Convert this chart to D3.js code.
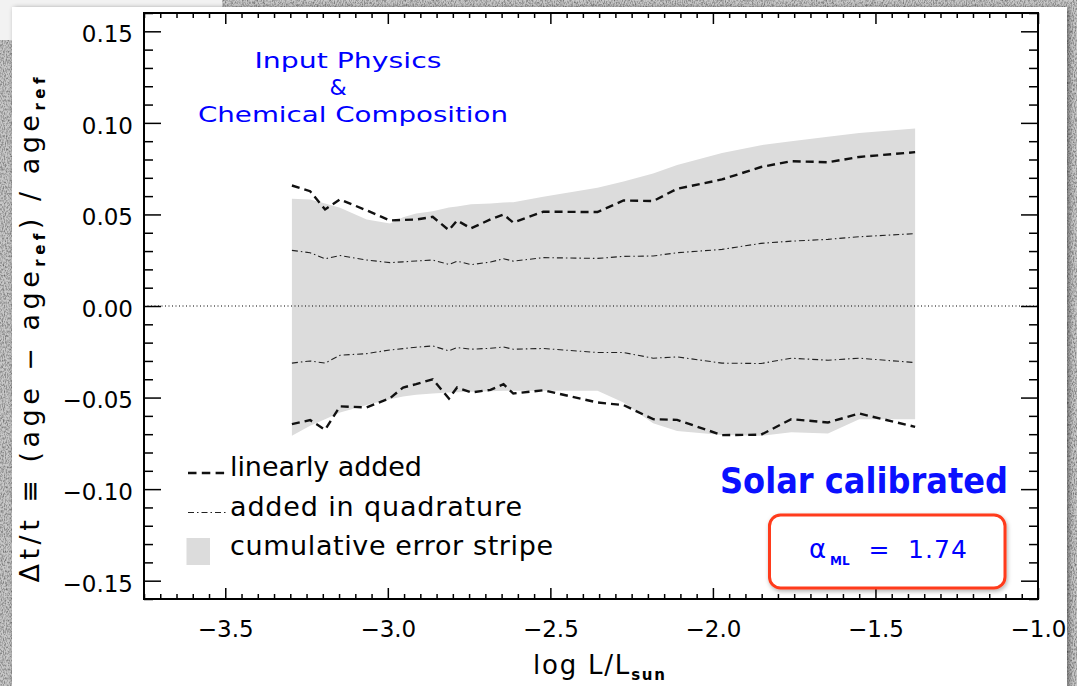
<!DOCTYPE html>
<html>
<head>
<meta charset="utf-8">
<script src="https://cdn.jsdelivr.net/npm/d3@7"></script>
<style>
html,body{margin:0;padding:0;overflow:hidden;background:#c4c4c4;}
svg{display:block;}
</style>
</head>
<body>
<svg id="chart" width="1077" height="686"></svg>
<script>
// ---------------- data ----------------
const logL = [-3.295, -3.239, -3.193, -3.147, -3.065, -2.993, -2.953, -2.913, -2.862, -2.812,
              -2.787, -2.744, -2.684, -2.644, -2.614, -2.522, -2.355, -2.275, -2.184, -2.110,
              -1.972, -1.852, -1.759, -1.646, -1.550, -1.378];
const linearUpper = [0.0658, 0.0627, 0.0527, 0.0582, 0.0522, 0.0467, 0.0470, 0.0472, 0.0487, 0.0414,
                     0.0467, 0.0424, 0.0473, 0.0500, 0.0455, 0.0515, 0.0513, 0.0576, 0.0573, 0.0640,
                     0.0691, 0.0759, 0.0791, 0.0785, 0.0814, 0.0840];
const linearLower = [-0.0645, -0.0623, -0.0676, -0.0548, -0.0554, -0.0503, -0.0445, -0.0427, -0.0400, -0.0505,
                     -0.0445, -0.0472, -0.0458, -0.0427, -0.0478, -0.0460, -0.0527, -0.0541, -0.0618, -0.0622,
                     -0.0705, -0.0703, -0.0618, -0.0636, -0.0587, -0.0660];
const quadUpper = [0.0304, 0.0291, 0.0258, 0.0276, 0.0251, 0.0237, 0.0241, 0.0246, 0.0251, 0.0227,
                   0.0245, 0.0226, 0.0240, 0.0258, 0.0245, 0.0264, 0.0260, 0.0271, 0.0273, 0.0291,
                   0.0309, 0.0342, 0.0354, 0.0364, 0.0378, 0.0395];
const quadLower = [-0.0312, -0.0300, -0.0312, -0.0269, -0.0260, -0.0240, -0.0233, -0.0225, -0.0218, -0.0245,
                   -0.0227, -0.0236, -0.0231, -0.0224, -0.0236, -0.0232, -0.0254, -0.0254, -0.0285, -0.0278,
                   -0.0312, -0.0314, -0.0285, -0.0296, -0.0285, -0.0309];
const stripeUpper = [0.0586, 0.0582, 0.0560, 0.0537, 0.0473, 0.0451, 0.0484, 0.0505, 0.0518, 0.0538,
                     0.0544, 0.0555, 0.0560, 0.0565, 0.0567, 0.0597, 0.0646, 0.0680, 0.0724, 0.0770,
                     0.0836, 0.0878, 0.0900, 0.0924, 0.0945, 0.0969];
const stripeLower = [-0.0709, -0.0654, -0.0618, -0.0581, -0.0541, -0.0509, -0.0494, -0.0484, -0.0478, -0.0473,
                     -0.0471, -0.0468, -0.0465, -0.0463, -0.0463, -0.0463, -0.0463, -0.0527, -0.0640, -0.0682,
                     -0.0705, -0.0709, -0.0690, -0.0696, -0.0618, -0.0618];
const xDomain = [-3.75, -1.0];
const yDomain = [-0.16, 0.16];
const xTicks = [-3.5, -3.0, -2.5, -2.0, -1.5, -1.0];
const yTicks = [-0.15, -0.10, -0.05, 0.00, 0.05, 0.10, 0.15];
const legendLabels = ["linearly added", "added in quadrature", "cumulative error stripe"];

// ---------------- drawing ----------------
const W = 1077, H = 686;
const FONT = "'DejaVu Sans', Verdana, sans-serif";
const svg = d3.select('#chart');
const defs = svg.append('defs');

const gran = defs.append('filter').attr('id', 'granite')
  .attr('color-interpolation-filters', 'sRGB')
  .attr('filterUnits', 'userSpaceOnUse')
  .attr('x', 0).attr('y', 0).attr('width', W).attr('height', H);
gran.append('feTurbulence').attr('type', 'fractalNoise')
  .attr('baseFrequency', '0.9 0.45').attr('numOctaves', 3).attr('seed', 7).attr('result', 'n');
gran.append('feColorMatrix').attr('in', 'n').attr('type', 'matrix')
  .attr('values', '0 0 0 0 0  0 0 0 0 0  0 0 0 0 0  0 0 0 0.9 -0.35');

const shadow = defs.append('filter').attr('id', 'shadow')
  .attr('x', '-5%').attr('y', '-5%').attr('width', '110%').attr('height', '110%');
shadow.append('feDropShadow').attr('dx', 2).attr('dy', 1).attr('stdDeviation', 2.5)
  .attr('flood-color', '#000').attr('flood-opacity', 0.45);

const boxShadow = defs.append('filter').attr('id', 'boxShadow')
  .attr('x', '-10%').attr('y', '-20%').attr('width', '120%').attr('height', '140%');
boxShadow.append('feDropShadow').attr('dx', 1).attr('dy', 2).attr('stdDeviation', 2)
  .attr('flood-color', '#000').attr('flood-opacity', 0.3);

// background texture & paper
svg.append('rect').attr('width', W).attr('height', H).attr('fill', '#c8c8c8');
svg.append('rect').attr('width', W).attr('height', H).attr('fill', '#000').attr('filter', 'url(#granite)');
svg.append('rect').attr('x', 0).attr('y', 0).attr('width', 222).attr('height', 40).attr('fill', '#f2f2f2');
svg.append('rect').attr('x', 12).attr('y', 7).attr('width', 1055).attr('height', 700)
  .attr('fill', '#ffffff').attr('filter', 'url(#shadow)');

const x = d3.scaleLinear().domain(xDomain).range([144, 1038]);
const y = d3.scaleLinear().domain(yDomain).range([599, 13]);

// error stripe
const area = d3.area()
  .x((d, i) => x(logL[i]))
  .y0((d, i) => y(stripeLower[i]))
  .y1((d, i) => y(stripeUpper[i]));
svg.append('path').datum(logL).attr('d', area).attr('fill', '#dcdcdc');

// zero line
svg.append('line')
  .attr('x1', x(xDomain[0])).attr('x2', x(xDomain[1]))
  .attr('y1', y(0)).attr('y2', y(0))
  .attr('stroke', '#000').attr('stroke-width', 1).attr('stroke-dasharray', '1,2.5');

const line = d3.line().x((d, i) => x(logL[i])).y(d => y(d));
[linearUpper, linearLower].forEach(s => {
  svg.append('path').datum(s).attr('d', line).attr('fill', 'none')
    .attr('stroke', '#111').attr('stroke-width', 2.4).attr('stroke-dasharray', '8,5');
});
[quadUpper, quadLower].forEach(s => {
  svg.append('path').datum(s).attr('d', line).attr('fill', 'none')
    .attr('stroke', '#222').attr('stroke-width', 1.1).attr('stroke-dasharray', '6,3,1.5,3');
});

// axes
const xMinor = d3.range(0, 56).map(i => +(xDomain[0] + i * 0.05).toFixed(2))
  .filter(v => !xTicks.some(t => Math.abs(t - v) < 1e-6));
const yMinor = d3.range(0, 33).map(i => +(yDomain[0] + i * 0.01).toFixed(2))
  .filter(v => !yTicks.some(t => Math.abs(t - v) < 1e-6));
const fmtX = d3.format('.1f');
const fmtY = d3.format('.2f');

function styleAxis(g, labels) {
  g.select('.domain').remove();
  g.selectAll('.tick line').attr('stroke', '#000').attr('stroke-width', 1.5);
  g.selectAll('.tick text').attr('fill', '#000').style('font-family', FONT).style('font-size', '23px');
  if (!labels) g.selectAll('.tick text').remove();
}
const axG = svg.append('g');
const yB = y.range()[0], yT = y.range()[1], xL = x.range()[0], xR = x.range()[1];

axG.append('g').attr('transform', `translate(0,${yB})`)
  .call(d3.axisBottom(x).tickValues(xTicks).tickSize(-11).tickPadding(22).tickFormat(fmtX))
  .call(g => styleAxis(g, true));
axG.append('g').attr('transform', `translate(0,${yB})`)
  .call(d3.axisBottom(x).tickValues(xMinor).tickSize(-5).tickFormat(''))
  .call(g => styleAxis(g, false));
axG.append('g').attr('transform', `translate(0,${yT})`)
  .call(d3.axisTop(x).tickValues(xTicks).tickSize(-11).tickFormat(''))
  .call(g => styleAxis(g, false));
axG.append('g').attr('transform', `translate(0,${yT})`)
  .call(d3.axisTop(x).tickValues(xMinor).tickSize(-5).tickFormat(''))
  .call(g => styleAxis(g, false));

axG.append('g').attr('transform', `translate(${xL},0)`)
  .call(d3.axisLeft(y).tickValues(yTicks).tickSize(-17).tickPadding(11).tickFormat(fmtY))
  .call(g => styleAxis(g, true))
  .call(g => g.selectAll('.tick text').attr('dy', '0.45em'));
axG.append('g').attr('transform', `translate(${xL},0)`)
  .call(d3.axisLeft(y).tickValues(yMinor).tickSize(-9).tickFormat(''))
  .call(g => styleAxis(g, false));
axG.append('g').attr('transform', `translate(${xR},0)`)
  .call(d3.axisRight(y).tickValues(yTicks).tickSize(-17).tickFormat(''))
  .call(g => styleAxis(g, false));
axG.append('g').attr('transform', `translate(${xR},0)`)
  .call(d3.axisRight(y).tickValues(yMinor).tickSize(-9).tickFormat(''))
  .call(g => styleAxis(g, false));

axG.append('rect').attr('x', xL).attr('y', yT).attr('width', xR - xL).attr('height', yB - yT)
  .attr('fill', 'none').attr('stroke', '#000').attr('stroke-width', 2);

// axis titles
const yt = svg.append('text')
  .attr('transform', 'translate(38.5,330) rotate(-90)')
  .attr('text-anchor', 'middle')
  .style('font-family', FONT).style('font-size', '27px').attr('fill', '#000')
  .attr('textLength', 505).attr('lengthAdjust', 'spacing');
yt.append('tspan').text('Δt/t ≡ (age − age');
yt.append('tspan').attr('dy', 6).style('font-size', '15px').style('font-weight', 'bold').text('ref');
yt.append('tspan').attr('dy', -6).text(') / age');
yt.append('tspan').attr('dy', 6).style('font-size', '15px').style('font-weight', 'bold').text('ref');

const xt = svg.append('text')
  .attr('x', 599).attr('y', 674).attr('text-anchor', 'middle')
  .style('font-family', FONT).style('font-size', '26px').attr('fill', '#000')
  .attr('textLength', 132).attr('lengthAdjust', 'spacing');
xt.append('tspan').text('log L/L');
xt.append('tspan').attr('dy', 6).style('font-size', '15px').style('font-weight', 'bold').text('sun');

// annotation (blue)
const BLUE = '#0000ff';
svg.append('text').attr('x', 348).attr('y', 67.5).attr('text-anchor', 'middle')
  .style('font-family', FONT).style('font-size', '22px').attr('fill', BLUE)
  .attr('textLength', 187).attr('lengthAdjust', 'spacingAndGlyphs').text('Input Physics');
svg.append('text').attr('x', 338).attr('y', 95).attr('text-anchor', 'middle')
  .style('font-family', FONT).style('font-size', '22px').attr('fill', BLUE).text('&');
svg.append('text').attr('x', 353).attr('y', 122).attr('text-anchor', 'middle')
  .style('font-family', FONT).style('font-size', '22px').attr('fill', BLUE)
  .attr('textLength', 310).attr('lengthAdjust', 'spacingAndGlyphs').text('Chemical Composition');

svg.append('text').attr('x', 720).attr('y', 493)
  .style('font-family', FONT).style('font-size', '35px').style('font-weight', 'bold').attr('fill', '#0a10ff')
  .attr('textLength', 288).attr('lengthAdjust', 'spacingAndGlyphs').text('Solar calibrated');

// alpha box
svg.append('rect').attr('x', 769.5).attr('y', 515).attr('width', 235.5).attr('height', 73)
  .attr('rx', 11).attr('fill', '#fff').attr('stroke', '#ff3a1a').attr('stroke-width', 3)
  .attr('filter', 'url(#boxShadow)');
svg.append('text').attr('x', 809).attr('y', 558)
  .style('font-family', FONT).style('font-size', '26px').attr('fill', BLUE).text('α');
svg.append('text').attr('x', 830).attr('y', 565)
  .style('font-family', FONT).style('font-size', '12px').style('font-weight', 'bold').attr('fill', BLUE).text('ML');
svg.append('text').attr('x', 879).attr('y', 558).attr('text-anchor', 'middle')
  .style('font-family', FONT).style('font-size', '25px').attr('fill', BLUE).text('=');
svg.append('text').attr('x', 908).attr('y', 558)
  .style('font-family', FONT).style('font-size', '25px').attr('fill', BLUE)
  .attr('textLength', 59).attr('lengthAdjust', 'spacing').text('1.74');

// legend
const lg = svg.append('g');
lg.append('line').attr('x1', 188).attr('x2', 226).attr('y1', 473).attr('y2', 473)
  .attr('stroke', '#111').attr('stroke-width', 2.4).attr('stroke-dasharray', '8.5,5.3');
lg.append('line').attr('x1', 188).attr('x2', 226).attr('y1', 512.5).attr('y2', 512.5)
  .attr('stroke', '#222').attr('stroke-width', 1.1).attr('stroke-dasharray', '6,3,1.5,3');
lg.append('rect').attr('x', 186.5).attr('y', 538).attr('width', 23.5).attr('height', 27).attr('fill', '#dcdcdc');
const legY = [476, 516, 555], legLen = [192, 292, 323];
legendLabels.forEach((t, i) => {
  lg.append('text').attr('x', 230).attr('y', legY[i])
    .style('font-family', FONT).style('font-size', '27px').attr('fill', '#000')
    .attr('textLength', legLen[i]).attr('lengthAdjust', 'spacing').text(t);
});
</script>
</body>
</html>
